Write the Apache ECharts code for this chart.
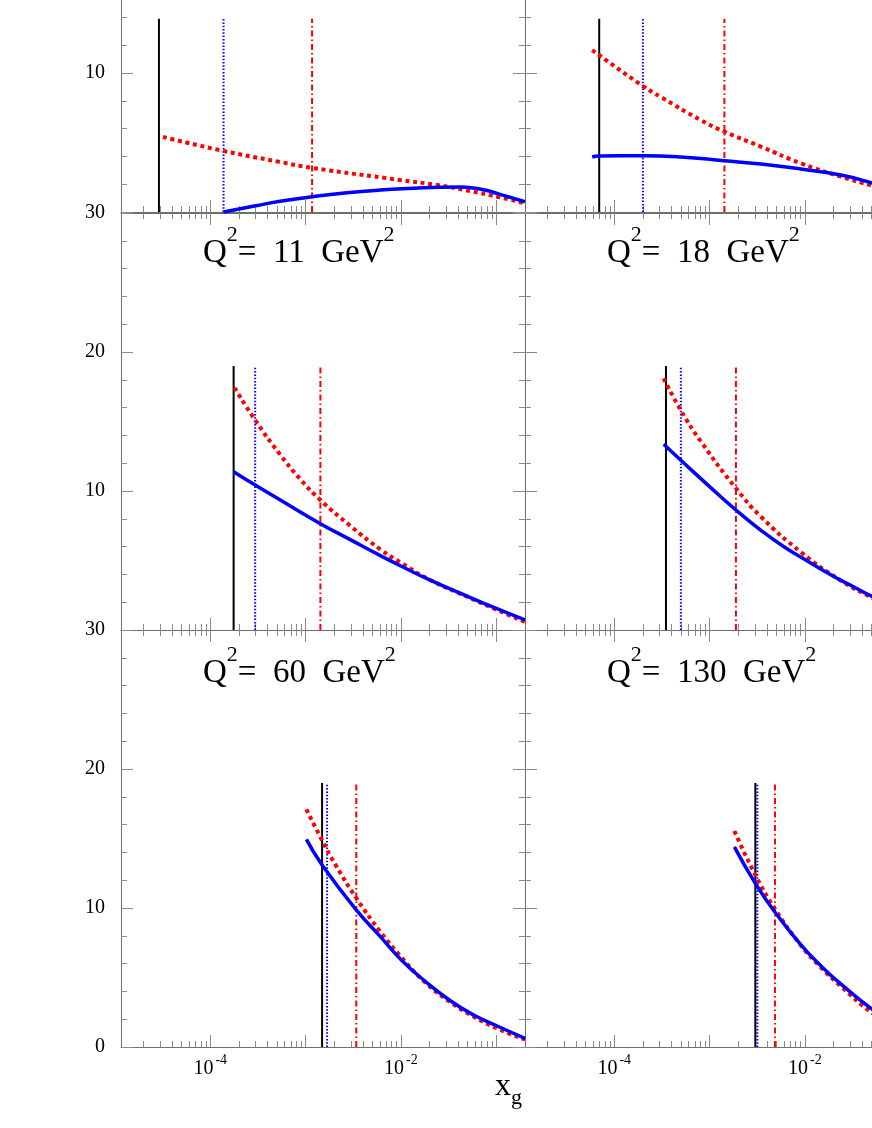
<!DOCTYPE html>
<html>
<head>
<meta charset="utf-8">
<script src="https://cdn.jsdelivr.net/npm/echarts@6/dist/echarts.min.js"></script>
<style>html,body{margin:0;padding:0;background:#fff}#c{width:872px;height:1128px}</style>
</head>
<body>
<div id="c"></div>
<script>
// ---------- data ----------
const X_MIN = 1.16e-5, X_MAX = 0.2;
const majorXTicks = [1e-4, 1e-3, 1e-2, 1e-1];
const minorXTicks = [2e-5,3e-5,4e-5,5e-5,6e-5,7e-5,8e-5,9e-5,
                     2e-4,3e-4,4e-4,5e-4,6e-4,7e-4,8e-4,9e-4,
                     2e-3,3e-3,4e-3,5e-3,6e-3,7e-3,8e-3,9e-3,
                     2e-2,3e-2,4e-2,5e-2,6e-2,7e-2,8e-2,9e-2];
const xLabelTicks = [1e-4, 1e-2];
const yLabelsBottom = [0, 10, 20, 30];
const yLabelsUpper = [10, 20, 30];
const q2Values = [null, null, '11', '18', '60', '130'];

// vertical cut lines per panel (top-left, top-right, mid-left, mid-right, bottom-left, bottom-right)
const cutBlack = [2.9e-5, 6.96e-5, 1.76e-4, 3.49e-4, 1.49e-3, 3.02e-3];
const cutBlue  = [1.38e-4, 2.0e-4, 2.96e-4, 5.0e-4, 1.68e-3, 3.17e-3];
const cutRed   = [1.17e-3, 1.43e-3, 1.43e-3, 1.89e-3, 3.4e-3, 4.85e-3];
const cutTop   = [13.9, 13.9, 19.0, 19.0, 19.0, 19.0];

// curves: [x_g, value]
const blue1 = [[1.38e-4,0.0],[3.0e-4,0.45],[5.4e-4,0.77],[1.18e-3,1.1],[2.72e-3,1.39],[6.08e-3,1.58],[1.35e-2,1.7],[2.6e-2,1.78],[4.2e-2,1.79],[5.8e-2,1.72],[8.0e-2,1.55],[0.111,1.25],[0.152,0.98],[0.2,0.74]];
const red1  = [[3.2e-5,5.4],[1.37e-4,4.4],[5.4e-4,3.6],[1.18e-3,3.17],[9.86e-3,2.3],[2.39e-2,1.94],[5.36e-2,1.5],[0.102,1.1],[0.2,0.63]];

const blue2 = [[5.88e-5,3.96],[6.9e-5,4.03],[2.0e-4,4.05],[5.0e-4,3.96],[1.43e-3,3.69],[3.46e-3,3.45],[9.08e-3,3.09],[2.39e-2,2.66],[5.19e-2,2.06],[0.1,1.45],[0.2,0.8]];
const red2  = [[5.88e-5,11.65],[2.0e-4,9.06],[3.09e-4,8.27],[8.13e-4,6.6],[1.43e-3,5.78],[3.46e-3,4.7],[9.08e-3,3.5],[2.39e-2,2.54],[5.19e-2,1.87],[0.1,1.25],[0.2,0.6]];

const blue3 = [[1.76e-4,11.39],[2.96e-4,10.43],[5.43e-4,9.35],[1.43e-3,7.65],[2.94e-3,6.5],[6.08e-3,5.35],[9.86e-3,4.62],[2.0e-2,3.6],[5.0e-2,2.42],[0.1,1.55],[0.2,0.72]];
const red3  = [[1.8e-4,17.43],[2.96e-4,15.1],[5.43e-4,12.6],[8.81e-4,10.85],[1.43e-3,9.35],[2.94e-3,7.5],[6.08e-3,5.8],[9.86e-3,4.87],[2.0e-2,3.62],[5.0e-2,2.38],[0.1,1.47],[0.2,0.58]];

const blue4 = [[3.3e-4,13.36],[5.0e-4,12.21],[9.55e-4,10.44],[1.89e-3,8.63],[3.46e-3,7.17],[6.08e-3,5.97],[1.07e-2,4.95],[2.03e-2,3.83],[3.3e-2,3.08],[4.94e-2,2.45],[0.1,1.49],[0.2,0.59]];
const red4  = [[3.3e-4,18.1],[5.0e-4,15.8],[8.13e-4,13.55],[1.89e-3,10.2],[3.46e-3,8.15],[9.08e-3,5.6],[2.39e-2,3.55],[5.19e-2,2.28],[0.1,1.28],[0.2,0.29]];

const blue5 = [[1.02e-3,14.94],[1.49e-3,13.1],[3.4e-3,9.86],[6.08e-3,7.94],[1.01e-2,6.26],[1.73e-2,4.82],[3.3e-2,3.33],[5.8e-2,2.3],[0.102,1.51],[0.2,0.62]];
const red5  = [[1.02e-3,17.1],[1.49e-3,14.87],[2.05e-3,13.13],[3.4e-3,10.72],[6.08e-3,8.29],[1.01e-2,6.46],[1.73e-2,4.75],[3.3e-2,3.22],[5.8e-2,2.18],[0.102,1.34],[0.2,0.53]];

const blue6 = [[1.82e-3,14.4],[3.02e-3,11.77],[4.85e-3,9.69],[9.08e-3,7.35],[1.47e-2,5.84],[2.39e-2,4.52],[5.19e-2,2.67],[0.1,1.45],[0.2,0.5]];
const red6  = [[1.82e-3,15.54],[3.02e-3,12.37],[4.85e-3,9.93],[9.08e-3,7.31],[1.47e-2,5.73],[2.39e-2,4.36],[5.19e-2,2.4],[0.1,1.25],[0.2,0.4]];

const blueCurves = [blue1, blue2, blue3, blue4, blue5, blue6];
const redCurves  = [red1, red2, red3, red4, red5, red6];

// ---------- layout / style ----------
const FONT = '"Liberation Serif", "Times New Roman", serif';
const AXC = '#6e6e6e', TKC = '#8a8a8a';
const ROW_TOP = [-205, 213, 630];
const PANEL_H = 417, PANEL_W = 404;
const COL_LEFT = [121, 525];

const grids = [], xAxes = [], yAxes = [], series = [], graphics = [];

for (let p = 0; p < 6; p++) {
  const row = Math.floor(p / 2), col = p % 2;
  grids.push({left: COL_LEFT[col], top: ROW_TOP[row], width: PANEL_W, height: PANEL_H,
              containLabel: false, outerBoundsMode: 'none', show: false});
  const xBase = {type: 'log', logBase: 10, min: X_MIN, max: X_MAX, gridIndex: p,
                 splitLine: {show: false}, minorSplitLine: {show: false}};
  const lineOn = {show: true, onZero: false, lineStyle: {color: AXC, width: 1}};
  const lineOff = {show: false, onZero: false};
  const majT = {show: true, inside: true, length: 12, customValues: majorXTicks, lineStyle: {color: TKC, width: 1}};
  const minT = {show: true, inside: true, length: 6, customValues: minorXTicks, lineStyle: {color: TKC, width: 1}};
  const xLab = row === 2 ? {
      show: true, customValues: xLabelTicks, margin: 6,
      formatter: v => '{b|10}{s|' + Math.round(Math.log10(v)) + '}',
      rich: {
        b: {fontFamily: FONT, fontSize: 20, color: '#000'},
        s: {fontFamily: FONT, fontSize: 14, color: '#000', padding: [0, 0, 18, 2]}
      }
    } : {show: false};
  xAxes.push(Object.assign({}, xBase, {position: 'bottom', axisLine: lineOn, axisTick: majT, axisLabel: xLab}));
  xAxes.push(Object.assign({}, xBase, {position: 'bottom', axisLine: lineOff, axisTick: minT, axisLabel: {show: false}}));
  xAxes.push(Object.assign({}, xBase, {position: 'top', axisLine: lineOn, axisTick: majT, axisLabel: {show: false}}));
  xAxes.push(Object.assign({}, xBase, {position: 'top', axisLine: lineOff, axisTick: minT, axisLabel: {show: false}}));

  const yBase = {type: 'value', min: 0, max: 30, interval: 10, gridIndex: p,
                 axisLine: lineOn,
                 axisTick: {show: true, inside: true, length: 12, lineStyle: {color: TKC, width: 1}},
                 minorTick: {show: true, splitNumber: 5, length: 6, lineStyle: {color: TKC, width: 1}},
                 splitLine: {show: false}, minorSplitLine: {show: false}};
  yAxes.push(Object.assign({}, yBase, {position: 'left',
    axisLabel: col === 0 ? {show: true, customValues: row === 2 ? yLabelsBottom : yLabelsUpper,
                            margin: 16, fontFamily: FONT, fontSize: 20, color: '#000'} : {show: false}}));
  yAxes.push(Object.assign({}, yBase, {position: 'right', axisLabel: {show: false}}));

  const xi = p * 4, yi = p * 2;
  const common = {type: 'line', xAxisIndex: xi, yAxisIndex: yi, showSymbol: false, symbol: 'none',
                  silent: true, animation: false, clip: true};
  series.push(Object.assign({}, common, {data: [[cutBlack[p], 0], [cutBlack[p], cutTop[p]]],
    lineStyle: {color: '#000', width: 2}}));
  series.push(Object.assign({}, common, {data: [[cutBlue[p], 0], [cutBlue[p], cutTop[p]]],
    lineStyle: {color: '#0000ff', width: 2, type: [1.5, 1.8]}}));
  series.push(Object.assign({}, common, {data: [[cutRed[p], 0], [cutRed[p], cutTop[p]]],
    lineStyle: {color: '#ff0000', width: 2, type: [6, 3, 1.5, 3]}}));
  series.push(Object.assign({}, common, {data: redCurves[p], smooth: 0.5,
    lineStyle: {color: '#ff0000', width: 4, type: [4, 3.7], cap: 'butt'}}));
  series.push(Object.assign({}, common, {data: blueCurves[p], smooth: 0.5,
    lineStyle: {color: '#0000ff', width: 3.5}}));

  if (q2Values[p]) {
    graphics.push({type: 'text', silent: true, z: 10,
      style: {x: col === 0 ? 203 : 607, y: row === 1 ? 253 : 673,
              text: '{n|Q}{s|2}{n|=  ' + q2Values[p] + '  GeV}{s|2}',
              align: 'left', verticalAlign: 'middle',
              rich: {
                n: {fontFamily: FONT, fontSize: 33, fill: '#000', color: '#000'},
                s: {fontFamily: FONT, fontSize: 22, fill: '#000', color: '#000', padding: [0, 0, 36, 0]}
              }}});
  }
}

graphics.push({type: 'text', silent: true, z: 10,
  style: {x: 495, y: 1087, text: '{x|x}{g|g}', align: 'left', verticalAlign: 'middle',
          rich: {
            x: {fontFamily: FONT, fontSize: 32, fill: '#000', color: '#000'},
            g: {fontFamily: FONT, fontSize: 22, fill: '#000', color: '#000', padding: [22, 0, 0, 0]}
          }}});

const chart = echarts.init(document.getElementById('c'), null, {renderer: 'canvas'});
chart.setOption({
  animation: false,
  backgroundColor: '#fff',
  grid: grids,
  xAxis: xAxes,
  yAxis: yAxes,
  series: series,
  graphic: graphics
});
</script>
</body>
</html>
